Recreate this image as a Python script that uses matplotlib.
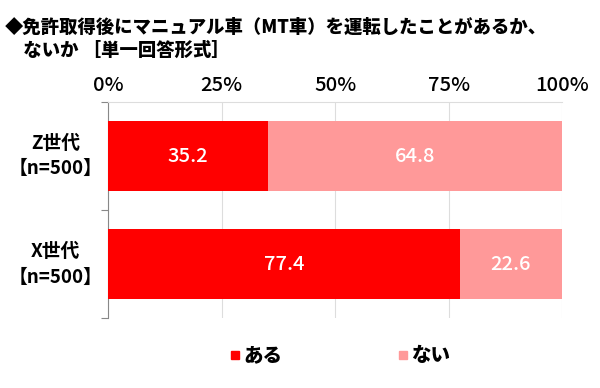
import matplotlib
matplotlib.use("Agg")
import matplotlib.pyplot as plt
from matplotlib.patches import Rectangle

plt.rcParams['font.family'] = ['Noto Sans CJK JP', 'DejaVu Sans']

categories = ["Z世代\n【n=500】", "X世代\n【n=500】"]
aru = [35.2, 77.4]
nai = [64.8, 22.6]
series_names = ["ある", "ない"]
colors = ["#FF0000", "#FF9999"]
xticks = [0, 25, 50, 75, 100]
xtick_labels = ["0%", "25%", "50%", "75%", "100%"]
title = "◆免許取得後にマニュアル車（MT車）を運転したことがあるか、\n　ないか ［単一回答形式］"

fig = plt.figure(figsize=(6, 3.88), dpi=100)
ax = fig.add_axes([0.18, 0.18, 0.757, 0.557])

ypos = [1.5, 0.5]
h = 0.65
ax.barh(ypos, aru, height=h, color=colors[0], zorder=3)
ax.barh(ypos, nai, left=aru, height=h, color=colors[1], zorder=3)
for y, a, n in zip(ypos, aru, nai):
    ax.text(a / 2, y, f"{a:.1f}", color="white", ha="center", va="center", fontsize=14.5, fontweight='medium', zorder=4)
    ax.text(a + n / 2, y, f"{n:.1f}", color="white", ha="center", va="center", fontsize=14.5, fontweight='medium', zorder=4)

ax.set_xlim(0, 100)
ax.set_ylim(0, 2)
ax.xaxis.tick_top()
ax.set_xticks(xticks)
ax.set_xticklabels(xtick_labels, fontsize=14.5, fontweight='medium')
ax.tick_params(axis='x', length=0, pad=5)
ax.grid(axis='x', color="#DDDDDD", linewidth=0.8, zorder=0)
ax.set_yticks([0, 1, 2])
ax.set_yticklabels([])
ax.tick_params(axis='y', which='major', length=5, color="#888888", direction='out')
for y, lab in zip(ypos, categories):
    ax.text(-0.115, y / 2, lab, transform=ax.transAxes, fontsize=13.5, fontweight='bold',
            ha='center', va='center', linespacing=1.45, multialignment='center')
for s in ["right", "bottom"]:
    ax.spines[s].set_visible(False)
ax.spines["top"].set_color("#DDDDDD")
ax.spines["left"].set_color("#888888")

fig.text(0.008, 0.955, title, fontsize=13.2, fontweight='heavy', va='top', ha='left', linespacing=1.3)

# legend
for xx, name, c in zip([0.385, 0.665], series_names, colors):
    fig.patches.append(Rectangle((xx, 0.074), 0.013, 0.022, transform=fig.transFigure, color=c, figure=fig))
    fig.text(xx + 0.02, 0.084, name, fontsize=14, fontweight='heavy', va='center', ha='left')

fig.savefig("out.png", dpi=100, facecolor="white")
